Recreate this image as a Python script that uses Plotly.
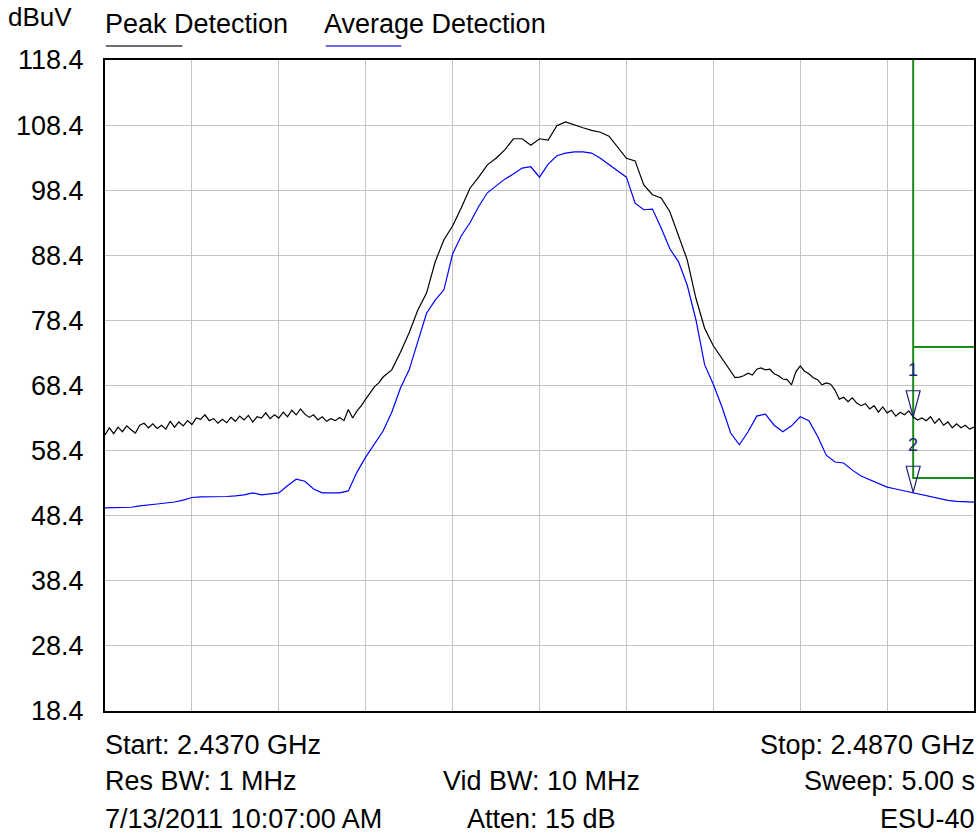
import plotly.graph_objects as go

# Spectrum sweep 2.437 - 2.487 GHz, levels in dBuV
peak_freq_mhz = [
    2437.00, 2437.25, 2437.50, 2437.75, 2438.00, 2438.25, 2438.50, 2438.75,
    2439.00, 2439.25, 2439.50, 2439.75, 2440.00, 2440.25, 2440.50, 2440.75,
    2441.00, 2441.25, 2441.50, 2441.75, 2442.00, 2442.25, 2442.50, 2442.75,
    2443.00, 2443.25, 2443.50, 2443.75, 2444.00, 2444.25, 2444.50, 2444.75,
    2445.00, 2445.25, 2445.50, 2445.75, 2446.00, 2446.25, 2446.50, 2446.75,
    2447.00, 2447.25, 2447.50, 2447.75, 2448.00, 2448.25, 2448.50, 2448.75,
    2449.00, 2449.25, 2449.50, 2449.75, 2450.00, 2450.25, 2450.50, 2450.75,
    2451.00, 2451.25, 2451.50, 2451.75, 2452.00, 2452.25, 2452.50, 2452.75,
    2453.00, 2453.50, 2454.00, 2454.50, 2455.00, 2455.50, 2456.00, 2456.50,
    2457.00, 2457.50, 2458.00, 2458.50, 2459.00, 2459.50, 2460.00, 2460.50,
    2461.00, 2461.50, 2462.00, 2462.50, 2463.00, 2463.50, 2464.00, 2464.50,
    2465.00, 2465.50, 2466.00, 2466.50, 2467.00, 2467.50, 2468.00, 2468.50,
    2469.00, 2469.50, 2470.00, 2470.50, 2471.00, 2471.50, 2472.00, 2472.50,
    2473.00, 2473.25, 2473.50, 2473.75, 2474.00, 2474.25, 2474.50, 2474.75,
    2475.00, 2475.25, 2475.50, 2475.75, 2476.00, 2476.25, 2476.50, 2476.75,
    2477.00, 2477.25, 2477.50, 2477.75, 2478.00, 2478.25, 2478.50, 2478.75,
    2479.00, 2479.25, 2479.50, 2479.75, 2480.00, 2480.25, 2480.50, 2480.75,
    2481.00, 2481.25, 2481.50, 2481.75, 2482.00, 2482.25, 2482.50, 2482.75,
    2483.00, 2483.25, 2483.50, 2483.75, 2484.00, 2484.25, 2484.50, 2484.75,
    2485.00, 2485.25, 2485.50, 2485.75, 2486.00, 2486.25, 2486.50, 2486.75,
    2487.00,
]
peak_dbuv = [
    60.8, 61.9, 61.0, 62.0, 61.3, 62.2, 61.6, 61.1,
    62.3, 62.6, 61.9, 62.5, 61.8, 62.3, 61.7, 62.9,
    62.0, 62.8, 62.2, 63.0, 62.4, 63.4, 63.2, 63.9,
    63.0, 63.3, 62.6, 63.2, 62.7, 63.5, 62.9, 63.7,
    63.1, 63.8, 62.8, 63.6, 63.4, 64.2, 63.3, 63.9,
    63.4, 64.3, 63.6, 64.6, 63.9, 64.8, 64.0, 63.5,
    63.9, 63.1, 63.6, 62.9, 63.3, 63.0, 63.5, 63.0,
    64.7, 63.4, 64.5, 65.3, 66.3, 67.3, 68.2, 68.8,
    69.7, 70.8, 73.5, 76.5, 80.0, 82.6, 87.4, 90.8,
    92.9, 95.7, 98.7, 100.4, 102.3, 103.3, 104.6, 106.3,
    106.3, 105.3, 106.3, 106.1, 108.3, 108.9, 108.4, 108.0,
    107.6, 107.3, 106.7, 105.0, 103.3, 102.9, 99.2, 97.7,
    97.2, 95.1, 91.5, 87.7, 81.8, 77.2, 74.5, 72.6,
    70.5, 69.6, 69.7, 69.9, 70.3, 70.0, 70.9, 71.1,
    70.8, 70.9, 70.2, 69.9, 69.4, 69.3, 68.5, 70.5,
    71.4, 70.6, 70.2, 69.6, 69.3, 68.5, 68.8, 68.6,
    67.7, 66.3, 66.6, 65.9, 66.5, 65.7, 65.3, 65.6,
    64.8, 65.3, 64.3, 65.1, 64.2, 64.6, 63.7, 64.3,
    63.9, 64.5, 63.6, 63.1, 63.4, 63.0, 63.6, 62.6,
    63.3, 62.3, 62.8, 61.9, 62.5, 61.9, 62.3, 61.7,
    62.0,
]

avg_freq_mhz = [
    2437.0, 2437.5, 2438.0, 2438.5, 2439.0, 2439.5, 2440.0, 2440.5, 2441.0, 2441.5,
    2442.0, 2442.5, 2443.0, 2443.5, 2444.0, 2444.5, 2445.0, 2445.5, 2446.0, 2446.5,
    2447.0, 2447.5, 2448.0, 2448.5, 2449.0, 2449.5, 2450.0, 2450.5, 2451.0, 2451.5,
    2452.0, 2452.5, 2453.0, 2453.5, 2454.0, 2454.5, 2455.0, 2455.5, 2456.0, 2456.5,
    2457.0, 2457.5, 2458.0, 2458.5, 2459.0, 2459.5, 2460.0, 2460.5, 2461.0, 2461.5,
    2462.0, 2462.5, 2463.0, 2463.5, 2464.0, 2464.5, 2465.0, 2465.5, 2466.0, 2466.5,
    2467.0, 2467.5, 2468.0, 2468.5, 2469.0, 2469.5, 2470.0, 2470.5, 2471.0, 2471.5,
    2472.0, 2472.5, 2473.0, 2473.5, 2474.0, 2474.5, 2475.0, 2475.5, 2476.0, 2476.5,
    2477.0, 2477.5, 2478.0, 2478.5, 2479.0, 2479.5, 2480.0, 2480.5, 2481.0, 2481.5,
    2482.0, 2482.5, 2483.0, 2483.5, 2484.0, 2484.5, 2485.0, 2485.5, 2486.0, 2486.5,
    2487.0,
]
avg_dbuv = [
    49.6, 49.6, 49.65, 49.7, 49.9, 50.0, 50.2, 50.35, 50.5, 50.8,
    51.2, 51.3, 51.3, 51.3, 51.35, 51.45, 51.6, 51.9, 51.6, 51.75,
    51.9, 53.0, 54.0, 53.7, 52.5, 51.9, 51.9, 51.9, 52.2, 55.1,
    57.4, 59.4, 61.4, 64.3, 68.0, 70.8, 75.1, 79.5, 81.5, 83.1,
    88.6, 91.4, 93.4, 95.9, 98.0, 99.0, 100.1, 100.9, 101.8, 102.0,
    100.4, 102.4, 103.7, 104.1, 104.3, 104.3, 104.1, 103.3, 102.3, 101.35,
    100.4, 96.4, 95.4, 95.5, 92.6, 89.4, 87.4, 83.8, 78.5, 71.6,
    68.6, 65.1, 61.1, 59.3, 61.3, 63.7, 64.0, 62.3, 61.3, 62.2,
    63.6, 63.0, 60.6, 57.7, 56.65, 56.5, 55.4, 54.5, 53.9, 53.3,
    52.8, 52.5, 52.2, 52.0, 51.7, 51.3, 51.0, 50.75, 50.6, 50.5,
    50.5,
]

# markers and display lines
marker_labels = ["1", "2"]
marker_freq_mhz = [2483.5, 2483.5]
marker_dbuv = [63.6, 52.0]
display_line_freq_mhz = 2483.5
display_line_dbuv = [74.3, 54.2]

y_ticks = [18.4, 28.4, 38.4, 48.4, 58.4, 68.4, 78.4, 88.4, 98.4, 108.4, 118.4]
x_start, x_stop = 2437.0, 2487.0

footer_left = ["Start: 2.4370 GHz", "Res BW: 1 MHz", "7/13/2011 10:07:00 AM"]
footer_mid = ["", "Vid BW: 10 MHz", "Atten: 15 dB"]
footer_right = ["Stop: 2.4870 GHz", "Sweep: 5.00 s", "ESU-40"]

FONT = "Liberation Sans, Arial, sans-serif"
FS = 27
GREEN = "#1a8c1a"
NAVY = "#22227a"

fig = go.Figure()

fig.add_trace(go.Scatter(
    x=[display_line_freq_mhz, display_line_freq_mhz, x_stop],
    y=[y_ticks[-1], display_line_dbuv[1], display_line_dbuv[1]],
    mode="lines", line=dict(color=GREEN, width=2), hoverinfo="skip",
))
fig.add_trace(go.Scatter(
    x=[display_line_freq_mhz, x_stop],
    y=[display_line_dbuv[0], display_line_dbuv[0]],
    mode="lines", line=dict(color=GREEN, width=2), hoverinfo="skip",
))
fig.add_trace(go.Scatter(
    x=avg_freq_mhz, y=avg_dbuv, mode="lines",
    line=dict(color="#0000ff", width=1.2), name="Average Detection",
))
fig.add_trace(go.Scatter(
    x=peak_freq_mhz, y=peak_dbuv, mode="lines",
    line=dict(color="#000000", width=1.2), name="Peak Detection",
))

# marker triangles (tip on the trace) and numbers
for label, f, lvl in zip(marker_labels, marker_freq_mhz, marker_dbuv):
    fig.add_shape(
        type="path", xref="x", yref="y",
        xsizemode="pixel", ysizemode="pixel", xanchor=f, yanchor=lvl,
        path="M -7,26 L 7,26 L 0,0 Z",
        line=dict(color=NAVY, width=1.2),
    )
    fig.add_annotation(
        x=f, y=lvl, text=label, showarrow=False, yshift=47,
        font=dict(family=FONT, size=18, color=NAVY),
    )

# legend drawn as text with a coloured underline
fig.add_annotation(x=-0.114, y=1.066, xref="paper", yref="paper", text="dBuV",
                   showarrow=False, xanchor="left", yanchor="middle",
                   font=dict(family=FONT, size=FS - 1, color="black"))
fig.add_annotation(x=-0.002, y=1.056, xref="paper", yref="paper", text="Peak Detection",
                   showarrow=False, xanchor="left", yanchor="middle",
                   font=dict(family=FONT, size=FS, color="black"))
fig.add_annotation(x=0.250, y=1.056, xref="paper", yref="paper", text="Average Detection",
                   showarrow=False, xanchor="left", yanchor="middle",
                   font=dict(family=FONT, size=FS, color="black"))
fig.add_shape(type="line", xref="paper", yref="paper", x0=0.001, x1=0.089,
              y0=1.0215, y1=1.0215, line=dict(color="#6e6e6e", width=2))
fig.add_shape(type="line", xref="paper", yref="paper", x0=0.254, x1=0.341,
              y0=1.0215, y1=1.0215, line=dict(color="#6a6af0", width=2))

# footer with sweep settings
row_y = [-0.052, -0.108, -0.166]
for i, yy in enumerate(row_y):
    fig.add_annotation(x=-0.002, y=yy, xref="paper", yref="paper", text=footer_left[i],
                       showarrow=False, xanchor="left", yanchor="middle",
                       font=dict(family=FONT, size=FS, color="black"))
    if footer_mid[i]:
        fig.add_annotation(x=0.502, y=yy, xref="paper", yref="paper", text=footer_mid[i],
                           showarrow=False, xanchor="center", yanchor="middle",
                           font=dict(family=FONT, size=FS, color="black"))
    fig.add_annotation(x=1.004, y=yy, xref="paper", yref="paper", text=footer_right[i],
                       showarrow=False, xanchor="right", yanchor="middle",
                       font=dict(family=FONT, size=FS, color="black"))

fig.update_layout(
    width=977, height=837,
    margin=dict(l=105, r=1, t=60, b=126),
    plot_bgcolor="white", paper_bgcolor="white",
    showlegend=False,
    font=dict(family=FONT, size=FS, color="black"),
)
fig.update_xaxes(
    range=[x_start, x_stop], dtick=5, tick0=x_start,
    showticklabels=False, ticks="",
    showgrid=True, gridcolor="#c4c4c4", gridwidth=1,
    showline=True, linecolor="black", linewidth=2, mirror=True, zeroline=False,
)
fig.update_yaxes(
    range=[y_ticks[0], y_ticks[-1]], tickvals=y_ticks,
    ticktext=[f"{v:.1f}" for v in y_ticks], ticks="", ticklabelstandoff=14,
    showgrid=True, gridcolor="#c4c4c4", gridwidth=1,
    showline=True, linecolor="black", linewidth=2, mirror=True, zeroline=False,
)

# the page's default body margin would push the 977x837 figure out of the window
fig.write_html(
    "out.html",
    config={"displayModeBar": False},
    post_script="document.body.style.margin = '0px';",
)
